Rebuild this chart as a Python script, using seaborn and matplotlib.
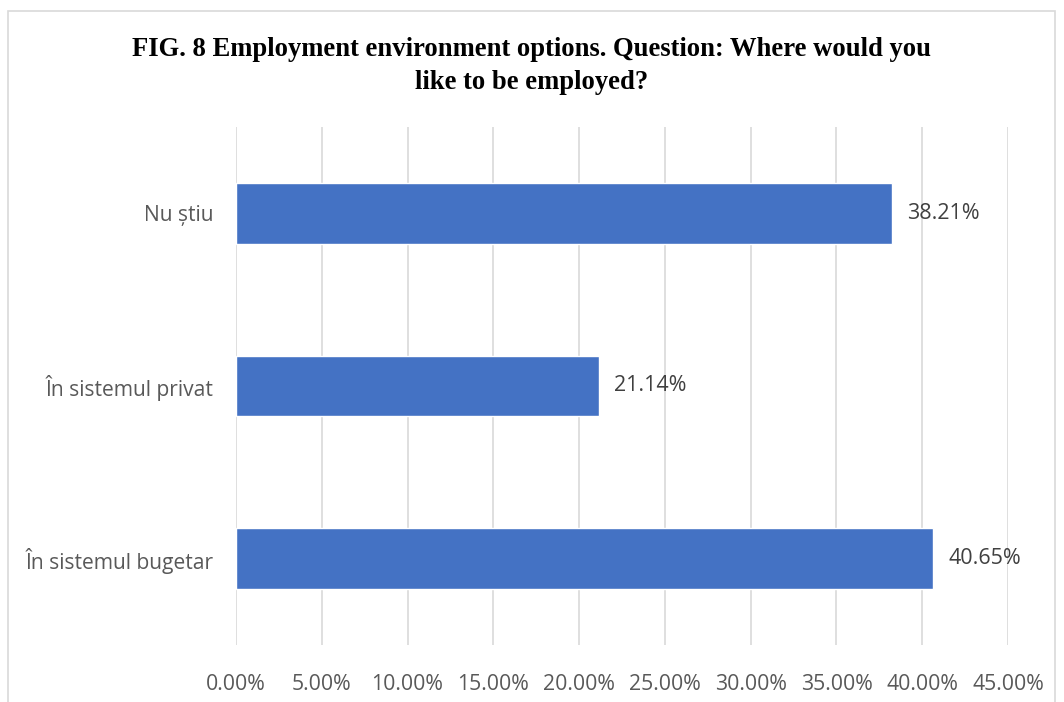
import matplotlib
matplotlib.use("Agg")
import matplotlib.pyplot as plt
from matplotlib.patches import Rectangle
from matplotlib.ticker import FuncFormatter, MultipleLocator
import seaborn as sns
import pandas as pd

categories = ["Nu știu", "În sistemul privat", "În sistemul bugetar"]
values = [38.21, 21.14, 40.65]
title = "FIG. 8 Employment environment options. Question: Where would you\nlike to be employed?"

sns.set_theme(style="white")
plt.rcParams["font.family"] = ["Open Sans", "DejaVu Sans"]

df = pd.DataFrame({"category": categories, "value": values})

fig = plt.figure(figsize=(10.64, 7.02), dpi=100)
ax = fig.add_axes([0.2218, 0.0812, 0.7256, 0.7379])

sns.barplot(data=df, x="value", y="category", order=categories,
            color="#4472C4", saturation=1, width=0.35, ax=ax, zorder=3)

ax.set_xlim(0, 45)
ax.set_ylim(2.5, -0.5)
ax.xaxis.set_major_locator(MultipleLocator(5))
ax.xaxis.set_major_formatter(FuncFormatter(lambda v, p: f"{v:.2f}%"))
ax.grid(axis="x", color="#D9D9D9", linewidth=1.2, zorder=0)
ax.grid(axis="y", visible=False)
for s in ax.spines.values():
    s.set_visible(False)
ax.set_xlabel("")
ax.set_ylabel("")
ax.tick_params(axis="x", length=0, pad=21, labelsize=15.3, labelcolor="#595959")
ax.tick_params(axis="y", length=0, pad=16, labelsize=15.1, labelcolor="#595959")

for i, v in enumerate(values):
    ax.text(v + 0.9, i, f"{v:.2f}%", va="center", ha="left",
            fontsize=15.5, color="#404040", zorder=4)

fig.text(0.5, 0.906, title, ha="center", va="center", fontsize=19.2,
         fontweight="bold", family="Liberation Serif", color="black",
         linespacing=1.42)

# outer chart frame
fig.patches.append(Rectangle((8 / 1064, -0.01), (1055 - 8) / 1064, (702 - 11) / 702 + 0.01,
                             transform=fig.transFigure, fill=False,
                             edgecolor="#D9D9D9", linewidth=1.2))

fig.savefig("out.png", dpi=100)
